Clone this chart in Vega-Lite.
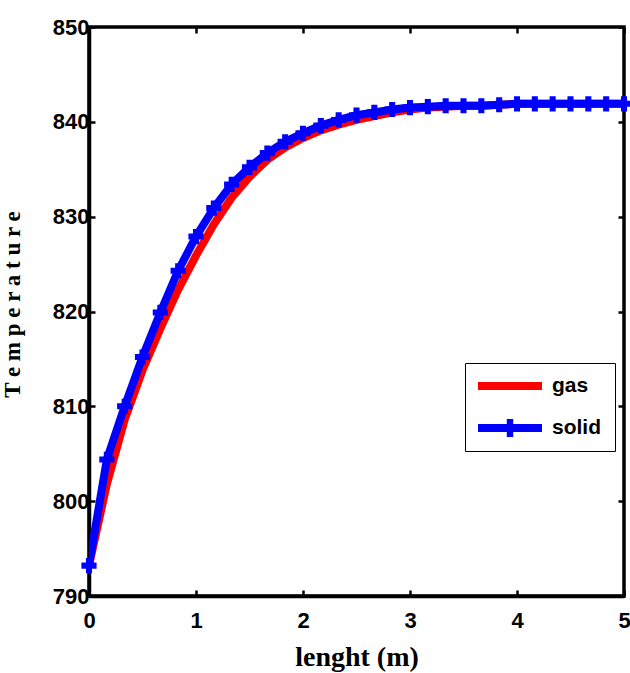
{
  "$schema": "https://vega.github.io/schema/vega-lite/v6.json",
  "width": 535,
  "height": 569,
  "autosize": "none",
  "padding": {"left": 89, "top": 27, "right": 6, "bottom": 77},
  "background": "white",
  "config": {
    "view": {"stroke": "black", "strokeWidth": 3.5},
    "axis": {
      "grid": false,
      "domainColor": "black",
      "domainWidth": 3.5,
      "tickColor": "black",
      "tickWidth": 2.5,
      "tickSize": -6,
      "labelFlush": false,
      "labelFont": "Liberation Sans",
      "labelFontWeight": "bold",
      "labelFontSize": 22,
      "labelColor": "black",
      "titleFont": "Liberation Serif",
      "titleFontWeight": "bold",
      "titleColor": "black"
    }
  },
  "data": {
    "values": [
      {"x": 0, "T": 793.2, "series": "gas"},
      {"x": 0.1667, "T": 801.8, "series": "gas"},
      {"x": 0.3333, "T": 808.6, "series": "gas"},
      {"x": 0.5, "T": 813.8, "series": "gas"},
      {"x": 0.6667, "T": 818.2, "series": "gas"},
      {"x": 0.8333, "T": 822.3, "series": "gas"},
      {"x": 1.0, "T": 825.9, "series": "gas"},
      {"x": 1.1667, "T": 829.2, "series": "gas"},
      {"x": 1.3333, "T": 832.0, "series": "gas"},
      {"x": 1.5, "T": 834.2, "series": "gas"},
      {"x": 1.6667, "T": 836.0, "series": "gas"},
      {"x": 1.8333, "T": 837.3, "series": "gas"},
      {"x": 2.0, "T": 838.3, "series": "gas"},
      {"x": 2.1667, "T": 839.1, "series": "gas"},
      {"x": 2.3333, "T": 839.7, "series": "gas"},
      {"x": 2.5, "T": 840.2, "series": "gas"},
      {"x": 2.6667, "T": 840.6, "series": "gas"},
      {"x": 2.8333, "T": 841.0, "series": "gas"},
      {"x": 3.0, "T": 841.3, "series": "gas"},
      {"x": 3.1667, "T": 841.5, "series": "gas"},
      {"x": 3.3333, "T": 841.6, "series": "gas"},
      {"x": 3.5, "T": 841.7, "series": "gas"},
      {"x": 3.6667, "T": 841.7, "series": "gas"},
      {"x": 3.8333, "T": 841.8, "series": "gas"},
      {"x": 4.0, "T": 841.9, "series": "gas"},
      {"x": 4.1667, "T": 841.9, "series": "gas"},
      {"x": 4.3333, "T": 841.9, "series": "gas"},
      {"x": 4.5, "T": 841.9, "series": "gas"},
      {"x": 4.6667, "T": 841.9, "series": "gas"},
      {"x": 4.8333, "T": 841.9, "series": "gas"},
      {"x": 5.0, "T": 841.9, "series": "gas"},
      {"x": 0, "T": 793.2, "series": "solid"},
      {"x": 0.1667, "T": 804.4, "series": "solid"},
      {"x": 0.3333, "T": 810.0, "series": "solid"},
      {"x": 0.5, "T": 815.2, "series": "solid"},
      {"x": 0.6667, "T": 819.9, "series": "solid"},
      {"x": 0.8333, "T": 824.3, "series": "solid"},
      {"x": 1.0, "T": 827.9, "series": "solid"},
      {"x": 1.1667, "T": 830.9, "series": "solid"},
      {"x": 1.3333, "T": 833.4, "series": "solid"},
      {"x": 1.5, "T": 835.2, "series": "solid"},
      {"x": 1.6667, "T": 836.7, "series": "solid"},
      {"x": 1.8333, "T": 837.9, "series": "solid"},
      {"x": 2.0, "T": 838.8, "series": "solid"},
      {"x": 2.1667, "T": 839.6, "series": "solid"},
      {"x": 2.3333, "T": 840.2, "series": "solid"},
      {"x": 2.5, "T": 840.7, "series": "solid"},
      {"x": 2.6667, "T": 841.0, "series": "solid"},
      {"x": 2.8333, "T": 841.3, "series": "solid"},
      {"x": 3.0, "T": 841.5, "series": "solid"},
      {"x": 3.1667, "T": 841.6, "series": "solid"},
      {"x": 3.3333, "T": 841.7, "series": "solid"},
      {"x": 3.5, "T": 841.7, "series": "solid"},
      {"x": 3.6667, "T": 841.7, "series": "solid"},
      {"x": 3.8333, "T": 841.8, "series": "solid"},
      {"x": 4.0, "T": 841.9, "series": "solid"},
      {"x": 4.1667, "T": 841.9, "series": "solid"},
      {"x": 4.3333, "T": 841.9, "series": "solid"},
      {"x": 4.5, "T": 841.9, "series": "solid"},
      {"x": 4.6667, "T": 841.9, "series": "solid"},
      {"x": 4.8333, "T": 841.9, "series": "solid"},
      {"x": 5.0, "T": 841.9, "series": "solid"}
    ]
  },
  "resolve": {"axis": {"x": "independent", "y": "independent"}},
  "layer": [
    {
      "mark": {"type": "line", "strokeWidth": 8, "interpolate": "linear", "clip": true},
      "encoding": {
        "x": {"field": "x", "type": "quantitative",
              "scale": {"domain": [0, 5], "nice": false, "zero": false},
              "axis": {"orient": "bottom", "values": [0, 1, 2, 3, 4, 5], "title": "lenght (m)", "titleFontSize": 28, "titlePadding": 12, "labelPadding": 20}},
        "y": {"field": "T", "type": "quantitative",
              "scale": {"domain": [790, 850], "nice": false, "zero": false},
              "axis": {"orient": "left", "values": [790, 800, 810, 820, 830, 840, 850], "title": "T e m p e r a t u r e", "titleFontSize": 23, "titlePadding": 28, "titleY": 277, "labelPadding": 6}},
        "color": {"field": "series", "type": "nominal",
                  "scale": {"domain": ["gas", "solid"], "range": ["#ff0000", "#0000ff"]},
                  "legend": {
                    "orient": "none", "legendX": 376, "legendY": 336, "title": null,
                    "direction": "vertical",
                    "strokeColor": "black", "fillColor": "white",
                    "padding": 13, "symbolSize": 4096, "symbolStrokeWidth": 0,
                    "clipHeight": 20,
                    "labelFont": "Liberation Sans", "labelFontWeight": "bold",
                    "labelFontSize": 21, "labelColor": "black", "labelOffset": 10,
                    "rowPadding": 21,
                    "encode": {"symbols": {"update": {
                      "shape": {"signal": "datum.value === 'solid' ? 'M-1,-0.125H-0.1V-0.28H0.1V-0.125H1V0.125H0.1V0.28H-0.1V0.125H-1Z' : 'M-1,-0.125H1V0.125H-1Z'"},
                      "fill": {"signal": "datum.value === 'solid' ? '#0000ff' : '#ff0000'"}
                    }}}
                  }}
      }
    },
    {
      "transform": [{"filter": "datum.series === 'solid'"}],
      "mark": {"type": "point", "shape": "cross", "filled": true, "size": 230, "opacity": 1, "clip": false},
      "encoding": {
        "x": {"field": "x", "type": "quantitative", "axis": null},
        "y": {"field": "T", "type": "quantitative", "axis": null},
        "color": {"field": "series", "type": "nominal", "legend": null}
      }
    },
    {
      "transform": [{"filter": "datum.series === 'solid'"}],
      "mark": {"type": "point", "opacity": 0},
      "encoding": {
        "x": {"field": "x", "type": "quantitative",
              "axis": {"orient": "top", "values": [0, 1, 2, 3, 4, 5], "labels": false, "domain": false, "title": null}},
        "y": {"field": "T", "type": "quantitative",
              "axis": {"orient": "right", "values": [790, 800, 810, 820, 830, 840, 850], "labels": false, "domain": false, "title": null}}
      }
    }
  ]
}
